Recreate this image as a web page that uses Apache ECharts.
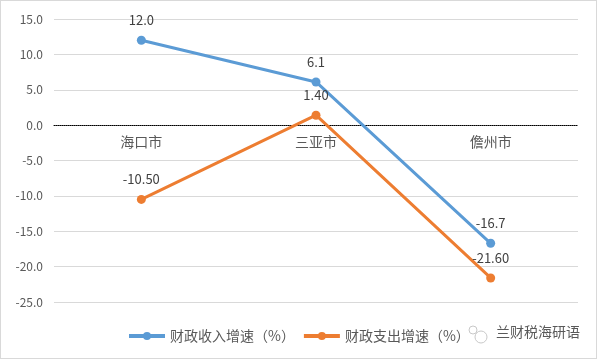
<!DOCTYPE html>
<html><head><meta charset="utf-8">
<script src="https://cdn.jsdelivr.net/npm/echarts@6/dist/echarts.min.js"></script>
<style>html,body{margin:0;padding:0;background:#fff}#c{width:597px;height:359px;box-sizing:border-box;border:1px solid #d9d9d9}</style>
</head><body><div id="c"></div>
<script>
const categories = ['海口市', '三亚市', '儋州市'];
const revenueGrowth = [12.0, 6.1, -16.7];
const expenditureGrowth = [-10.50, 1.40, -21.60];
const seriesNames = ['财政收入增速（%）', '财政支出增速（%）'];
const revenueLabels = ['12.0', '6.1', '-16.7'];
const expenditureLabels = ['-10.50', '1.40', '-21.60'];

const chart = echarts.init(document.getElementById('c'));
const font = '"Microsoft YaHei","Noto Sans CJK SC",sans-serif';
chart.setOption({
  animation: false,
  textStyle: {fontFamily: font},
  grid: {left: 53, right: 18, top: 18, bottom: 56, containLabel: false},
  legend: {
    left: 121, top: 323, itemWidth: 36, itemHeight: 10, itemGap: 7,
    textStyle: {color: '#595959', fontSize: 14, fontFamily: font},
    lineStyle: {width: 4},
    data: seriesNames
  },
  xAxis: {
    type: 'category', data: categories, boundaryGap: true,
    offset: -177,
    axisLine: {onZero: false, lineStyle: {color: '#000', type: [1, 1], width: 1}},
    axisTick: {show: false},
    axisLabel: {color: '#595959', fontSize: 14, margin: 10, fontFamily: font}
  },
  yAxis: {
    type: 'value', min: -25, max: 15, interval: 5,
    axisLine: {show: false}, axisTick: {show: false},
    axisLabel: {color: '#595959', fontSize: 12, margin: 11, fontFamily: font,
      formatter: v => v.toFixed(1)},
    splitLine: {lineStyle: {color: '#d9d9d9'}}
  },
  series: [
    {
      name: seriesNames[0], type: 'line', data: revenueGrowth,
      symbol: 'circle', symbolSize: 9,
      lineStyle: {width: 3, color: '#5B9BD5'}, itemStyle: {color: '#5B9BD5'},
      label: {show: true, position: 'top', distance: 9, color: '#404040', fontSize: 13,
        formatter: p => revenueLabels[p.dataIndex]}
    },
    {
      name: seriesNames[1], type: 'line', data: expenditureGrowth,
      symbol: 'circle', symbolSize: 9,
      lineStyle: {width: 3, color: '#ED7D31'}, itemStyle: {color: '#ED7D31'},
      label: {show: true, position: 'top', distance: 9, color: '#404040', fontSize: 13,
        formatter: p => expenditureLabels[p.dataIndex]}
    }
  ],
  graphic: [
    {type: 'text', left: 495, top: 324, style: {text: '兰财税海研语', fill: '#595959', font: '14px ' + font}},
    {type: 'circle', shape: {cx: 480, cy: 336, r: 6}, style: {fill: 'none', stroke: '#c8c8c8', lineWidth: 1}},
    {type: 'circle', shape: {cx: 472, cy: 329, r: 4}, style: {fill: 'none', stroke: '#c8c8c8', lineWidth: 1}}
  ]
});
</script></body></html>
